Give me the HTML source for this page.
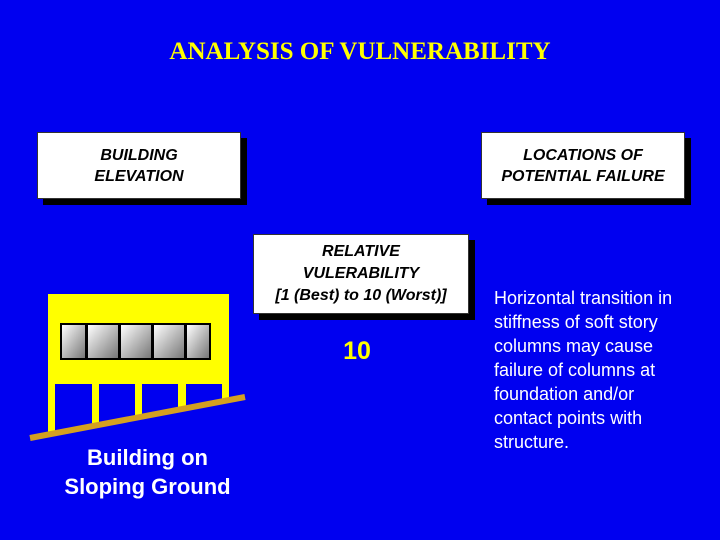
<!DOCTYPE html>
<html><head><style>
body{margin:0;width:720px;height:540px;background:#0000f0;overflow:hidden;position:relative;font-family:"Liberation Sans",Arial,sans-serif}
.t{position:absolute;left:0;width:720px;top:38px;text-align:center;color:#ffff00;font-family:"Liberation Serif",serif;font-weight:bold;font-size:25px}
.box{position:absolute;background:#fff;border:1px solid #333;box-shadow:6px 6px 0 #000;text-align:center;font-style:italic;font-weight:bold;font-size:16px;color:#000;display:flex;align-items:center;justify-content:center;line-height:21px}
.w{position:absolute;color:#fff;font-size:18px;line-height:24px}
</style></head><body>
<div class="t">ANALYSIS OF VULNERABILITY</div>
<div class="box" style="left:37px;top:132px;width:202px;height:65px">BUILDING<br>ELEVATION</div>
<div class="box" style="left:481px;top:132px;width:202px;height:65px">LOCATIONS OF<br>POTENTIAL FAILURE</div>
<div class="box" style="left:253px;top:234px;width:214px;height:78px;line-height:22px">RELATIVE<br>VULERABILITY<br>[1 (Best) to 10 (Worst)]</div>
<div style="position:absolute;left:320px;top:337px;width:74px;text-align:center;color:#ffff00;font-weight:bold;font-size:25px">10</div>
<div class="w" style="left:494px;top:286px;width:215px">Horizontal transition in stiffness of soft story columns may cause<br>failure of columns at foundation and/or<br>contact points with structure.</div>
<svg style="position:absolute;left:0;top:0" width="720" height="540">
<defs><linearGradient id="g" x1="0" y1="0" x2="1" y2="1"><stop offset="0" stop-color="#fff"/><stop offset="1" stop-color="#777"/></linearGradient></defs>
<rect x="48" y="294" width="181" height="140" fill="#ffff00"/>
<rect x="55" y="384" width="37" height="60" fill="#0000f0"/>
<rect x="99" y="384" width="36" height="60" fill="#0000f0"/>
<rect x="142" y="384" width="36" height="60" fill="#0000f0"/>
<rect x="186" y="384" width="36" height="60" fill="#0000f0"/>
<polygon points="30,460 48,460 48,434 229,400 229,460" fill="#0000f0"/>
<rect x="60" y="323" width="151" height="37" fill="#000"/>
<rect x="62" y="325" width="23" height="33" fill="url(#g)"/>
<rect x="88" y="325" width="30" height="33" fill="url(#g)"/>
<rect x="121" y="325" width="30" height="33" fill="url(#g)"/>
<rect x="154" y="325" width="30" height="33" fill="url(#g)"/>
<rect x="187" y="325" width="22" height="33" fill="url(#g)"/>
<line x1="30" y1="438" x2="245" y2="397" stroke="#d4a020" stroke-width="6"/>
</svg>
<div class="w" style="left:30px;top:443px;width:235px;text-align:center;font-size:22px;line-height:29px;font-weight:bold">Building on<br>Sloping Ground</div>
</body></html>
